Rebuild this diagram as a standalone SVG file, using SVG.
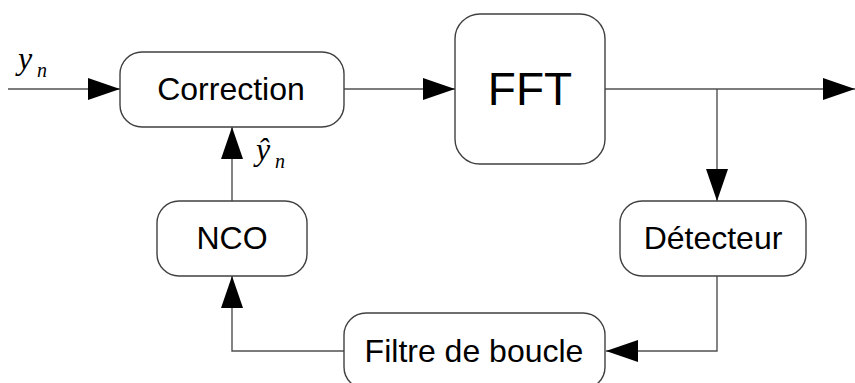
<svg xmlns="http://www.w3.org/2000/svg" width="855" height="383" viewBox="0 0 855 383">
<style>
.box{fill:#fff;stroke:#404040;stroke-width:1.4}
.lbl{font-family:"Liberation Sans",Arial,sans-serif;font-size:32px;fill:#000;text-anchor:middle}
.wire{fill:none;stroke:#505050;stroke-width:1.4}
.math{font-family:"Liberation Serif","Times New Roman",serif;font-style:italic;fill:#000}
</style>
<defs>
<marker id="ah" viewBox="0 0 32 22" refX="32" refY="11" markerWidth="32" markerHeight="22" markerUnits="userSpaceOnUse" orient="auto">
<path d="M0,0 L32,11 L0,22 Z" fill="#000"/>
</marker>
</defs>
<rect width="855" height="383" fill="#fff"/>
<g id="connectors">
<path class="wire" d="M8,89 H120" marker-end="url(#ah)"/>
<path class="wire" d="M344,89 H455" marker-end="url(#ah)"/>
<path class="wire" d="M605,89 H855" marker-end="url(#ah)"/>
<path class="wire" d="M717,89 V201" marker-end="url(#ah)"/>
<path class="wire" d="M717,276 V351 H606" marker-end="url(#ah)"/>
<path class="wire" d="M344,351 H232 V276" marker-end="url(#ah)"/>
<path class="wire" d="M232,201 V127" marker-end="url(#ah)"/>
</g>
<g id="correction">
<rect class="box" x="120" y="52" width="224" height="75" rx="22"/>
<text class="lbl" x="231" y="100">Correction</text>
</g>
<g id="fft">
<rect class="box" x="455" y="14" width="150" height="150" rx="25"/>
<text class="lbl" x="530" y="105" style="font-size:46px">FFT</text>
</g>
<g id="detecteur">
<rect class="box" x="620" y="201" width="186" height="75" rx="22"/>
<text class="lbl" x="713" y="249">Détecteur</text>
</g>
<g id="nco">
<rect class="box" x="157" y="201" width="150" height="75" rx="22"/>
<text class="lbl" x="232" y="249">NCO</text>
</g>
<g id="filtre">
<rect class="box" x="344" y="313" width="261" height="76" rx="22"/>
<text class="lbl" x="474" y="362">Filtre de boucle</text>
</g>
<g id="labels">
<text class="math" x="18" y="69" font-size="32">y</text>
<text class="math" x="37" y="77" font-size="20">n</text>
<text class="math" x="256" y="160" font-size="32">ŷ</text>
<text class="math" x="275" y="168" font-size="20">n</text>
</g>
</svg>
